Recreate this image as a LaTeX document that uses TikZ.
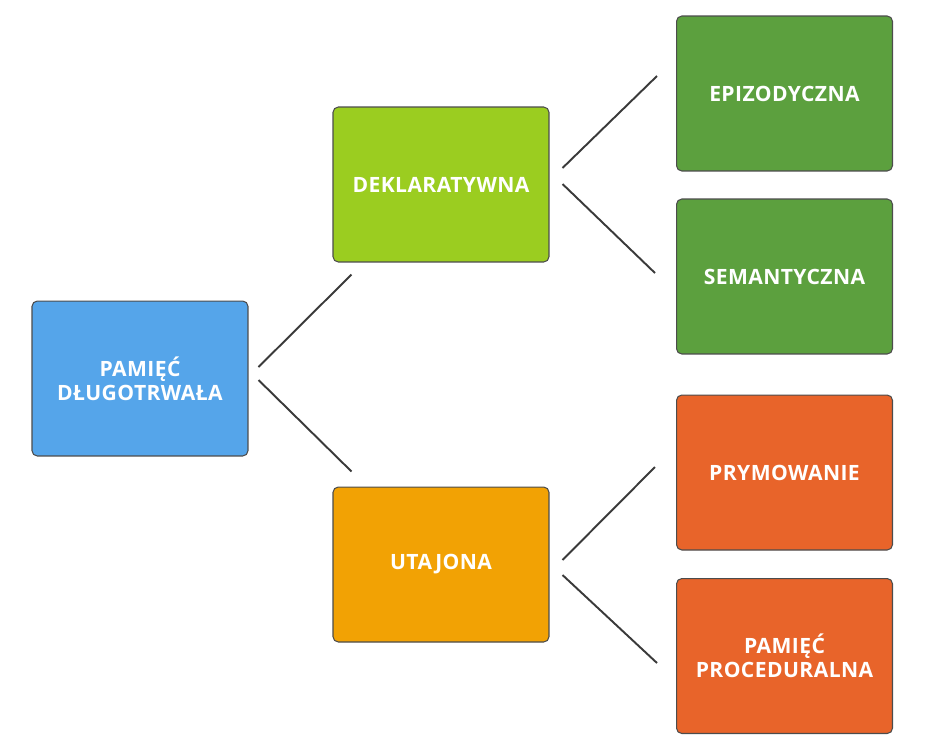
\documentclass[tikz,border=0pt]{standalone}
\usepackage{fontspec}
\setsansfont[LetterSpace=2]{Open Sans}
\usepackage{tikz}

\definecolor{memblue}{RGB}{85,165,234}
\definecolor{declgreen}{RGB}{155,205,32}
\definecolor{darkgreen}{RGB}{92,160,62}
\definecolor{implorange}{RGB}{242,162,4}
\definecolor{redorange}{RGB}{232,100,42}
\definecolor{linkgray}{RGB}{58,58,58}

\begin{document}
\begin{tikzpicture}[x=0.02cm, y=-0.02cm,
	box/.style={draw=black!70, line width=0.6pt, rounded corners=3pt, minimum width=4.32cm, minimum height=3.1cm, align=center, text=white, font=\sffamily\bfseries\fontsize{12}{13.6}\selectfont},
	link/.style={draw=linkgray, line width=1.1pt}]
	\useasboundingbox (0,0) rectangle (929,755);
	\node[box, fill=memblue] (root) at (140,378.5) {PAMIĘĆ\\DŁUGOTRWAŁA};
	\node[box, fill=declgreen] (dekl) at (441,184.5) {DEKLARATYWNA};
	\node[box, fill=implorange] (utaj) at (441,564.5) {UTAJONA};
	\node[box, fill=darkgreen] (epiz) at (784.5,93.5) {EPIZODYCZNA};
	\node[box, fill=darkgreen] (sem) at (784.5,276.5) {SEMANTYCZNA};
	\node[box, fill=redorange] (prym) at (784.5,472.5) {PRYMOWANIE};
	\node[box, fill=redorange] (proc) at (784.5,656) {PAMIĘĆ\\PROCEDURALNA};
	\draw[link] ([shift={(10,-11.5)}]root.east) -- ([shift={(19,12)}]dekl.south west);
	\draw[link] ([shift={(10,1.5)}]root.east) -- ([shift={(19,-15)}]utaj.north west);
	\draw[link] ([shift={(13,-16.5)}]dekl.east) -- ([shift={(-19,-17.5)}]epiz.west);
	\draw[link] ([shift={(13,-0.5)}]dekl.east) -- ([shift={(-21,-3.5)}]sem.west);
	\draw[link] ([shift={(13,-4.5)}]utaj.east) -- ([shift={(-21,-5.5)}]prym.west);
	\draw[link] ([shift={(13,10.5)}]utaj.east) -- ([shift={(-19,7)}]proc.west);
\end{tikzpicture}
\end{document}
